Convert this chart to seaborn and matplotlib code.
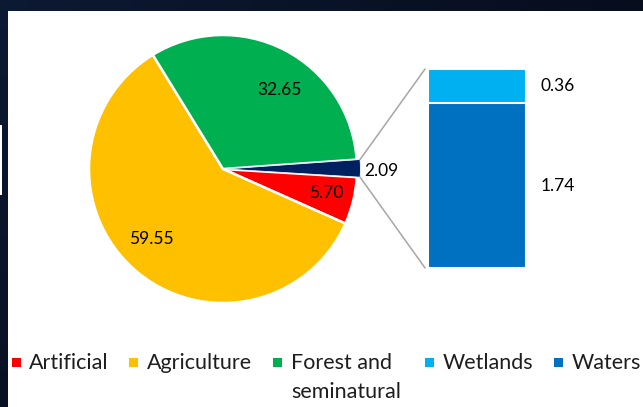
import numpy as np
import pandas as pd
import matplotlib
matplotlib.use("Agg")
import matplotlib.pyplot as plt
from matplotlib.patches import Rectangle, ConnectionPatch
from matplotlib.transforms import blended_transform_factory
import seaborn as sns

# Land cover shares (%): main pie slices
pie_categories = ["Artificial", "Agriculture", "Forest and seminatural", "Water bodies"]
pie_values = [5.70, 59.55, 32.65, 2.09]
pie_labels = ["5.70", "59.55", "32.65", "2.09"]

# Breakdown of the water bodies slice
bar_categories = ["Wetlands", "Waters"]
bar_values = [0.36, 1.74]
bar_labels = ["0.36", "1.74"]

legend_labels = ["Artificial", "Agriculture", "Forest and\nseminatural", "Wetlands", "Waters"]

pie_colors = ["#FF0000", "#FFC000", "#00B050", "#002060"]
bar_colors = ["#00B0F0", "#0070C0"]
legend_colors = ["#FF0000", "#FFC000", "#00B050", "#00B0F0", "#0070C0"]

sns.set_theme(style="white")
plt.rcParams["font.family"] = ["Lato", "DejaVu Sans"]

W, H = 643, 407
fig = plt.figure(figsize=(W / 100, H / 100), dpi=100)


def add_px_axes(x0, y0, x1, y1):
    return fig.add_axes([x0 / W, 1 - y1 / H, (x1 - x0) / W, (y1 - y0) / H])


# Slide background with the white chart area
bg = fig.add_axes([0, 0, 1, 1])
bg.set_zorder(-5)
gx = np.linspace(0, 1, 64)[None, :, None]
gy = np.linspace(0, 1, 64)[:, None, None]
c0 = np.array([0.05, 0.10, 0.20])
c1 = np.array([0.01, 0.02, 0.05])
grad = c0 * (1 - 0.6 * gx - 0.4 * gy) + c1 * (0.6 * gx + 0.4 * gy)
bg.imshow(grad, extent=[0, W, H, 0], aspect="auto", interpolation="bilinear")
bg.add_patch(Rectangle((8, 11), W - 8, H - 11, color="white", lw=0))
bg.add_patch(Rectangle((0, 125), 2, 70, color="white", lw=0))
bg.set_xlim(0, W)
bg.set_ylim(H, 0)
bg.set_axis_off()

# Pie of the main land cover classes
cx, cy, R = 223, 169, 134
ax_pie = add_px_axes(cx - R, cy - R, cx + R, cy + R)
wedges, _ = ax_pie.pie(
    pie_values,
    colors=pie_colors,
    startangle=-3.5,
    counterclock=False,
    explode=[0, 0, 0, 0.025],
    wedgeprops=dict(edgecolor="white", linewidth=1.8),
)
wedges[3].set_linewidth(0.5)
ax_pie.set_xlim(-1, 1)
ax_pie.set_ylim(-1, 1)
ax_pie.set_aspect("equal")
ax_pie.set_axis_off()

# label placement: (radius, angular shift from slice middle, alignment)
label_place = [(0.79, 0.7, "center"), (0.75, -4.6, "center"),
               (0.72, -8.3, "center"), (1.052, -0.9, "left")]
for w, txt, (r, shift, ha) in zip(wedges, pie_labels, label_place):
    ang = np.deg2rad((w.theta1 + w.theta2) / 2 + shift)
    ax_pie.text(r * np.cos(ang), r * np.sin(ang), txt, ha=ha, va="center",
                fontsize=12.5, color="#000000")

# Stacked bar for the water bodies breakdown
ax_bar = add_px_axes(428, 69, 526, 268)
total = sum(bar_values)
sns.barplot(x=["Water bodies"], y=[total], color=bar_colors[0], saturation=1,
            width=1, edgecolor="white", linewidth=1.5, ax=ax_bar)
sns.barplot(x=["Water bodies"], y=[bar_values[1]], color=bar_colors[1], saturation=1,
            width=1, edgecolor="white", linewidth=1.5, ax=ax_bar)
ax_bar.set_xlim(-0.5, 0.5)
ax_bar.set_ylim(0, total)
ax_bar.set_axis_off()

tr = blended_transform_factory(ax_bar.transAxes, ax_bar.transData)
mids = [bar_values[1] + bar_values[0] / 2, bar_values[1] / 2]
for txt, ym in zip(bar_labels, mids):
    ax_bar.text(1.153, ym, txt, transform=tr, ha="left", va="center",
                fontsize=12.5, color="#000000")

# Connector lines from the water slice to the bar
nav = wedges[3]
ncx, ncy = nav.center
nr = nav.r
top = (ncx + nr * np.cos(np.deg2rad(nav.theta2)), ncy + nr * np.sin(np.deg2rad(nav.theta2)))
bot = (ncx + nr * np.cos(np.deg2rad(nav.theta1)), ncy + nr * np.sin(np.deg2rad(nav.theta1)))
for pa, pb in [(top, (-0.53, total)), (bot, (-0.53, 0))]:
    con = ConnectionPatch(xyA=pb, coordsA=ax_bar.transData,
                          xyB=pa, coordsB=ax_pie.transData,
                          color="#A6A6A6", lw=1.1)
    con.set_clip_on(False)
    ax_bar.add_artist(con)

# Legend
marker_x = [12, 129, 273, 425, 554]
text_x = [29, 147, 291, 443, 572]
baseline_y = 369
line_step = 29
for lab, col, mx, tx in zip(legend_labels, legend_colors, marker_x, text_x):
    bg.add_patch(Rectangle((mx, 358), 9, 9, color=col, lw=0))
    for i, line in enumerate(lab.split("\n")):
        bg.text(tx, baseline_y + i * line_step, line, ha="left", va="baseline",
                fontsize=15.5, color="#1e1e1e")

fig.savefig("out.png", dpi=100)
